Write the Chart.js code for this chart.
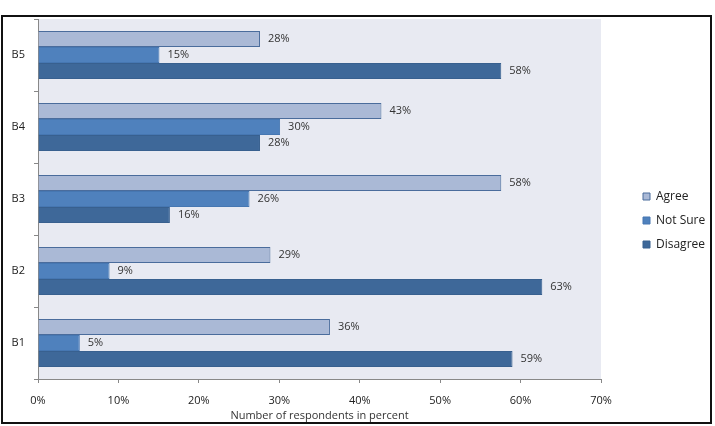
<!DOCTYPE html>
<html lang="en">
<head>
    <meta charset="UTF-8">
    <title>Respondents</title>
    <script src="https://cdn.jsdelivr.net/npm/chart.js"></script>
    <style>
        body {
            margin: 0;
            background-color: white;
        }
        .chart-box {
            position: absolute;
            left: 1px;
            top: 15px;
            width: 711px;
            height: 409px;
            box-sizing: border-box;
            border: 2px solid #111;
            background-color: white;
        }
        canvas {
            display: block;
        }
    </style>
</head>
<body>
    <div class="chart-box">
        <canvas id="respChart" width="707" height="405"></canvas>
    </div>
    <script>
        // bottom to top, as in the picture
        const categories = ['B1', 'B2', 'B3', 'B4', 'B5'];
        const agree    = [36.3, 28.9, 57.6, 42.7, 27.6];
        const notSure  = [5.2, 8.9, 26.3, 30.1, 15.1];
        const disagree = [59.0, 62.7, 16.4, 27.6, 57.6];
        const seriesNames = ['Agree', 'Not Sure', 'Disagree'];
        const xTicks = [0, 10, 20, 30, 40, 50, 60, 70];

        const font = "'Open Sans', sans-serif";

        // chart.js puts the first label on top, so flip the lists
        const flip = arr => arr.slice().reverse();

        const plotBackground = {
            id: 'plotBackground',
            beforeDraw(chart) {
                const {ctx, chartArea: a} = chart;
                ctx.save();
                ctx.fillStyle = '#E8EAF2';
                ctx.fillRect(a.left, a.top, a.right - a.left, a.bottom - a.top);
                ctx.restore();
            }
        };

        const barLabels = {
            id: 'barLabels',
            afterDatasetsDraw(chart) {
                const ctx = chart.ctx;
                ctx.save();
                ctx.font = '11px ' + font;
                ctx.fillStyle = '#333';
                ctx.textBaseline = 'middle';
                ctx.textAlign = 'left';
                chart.data.datasets.forEach((ds, i) => {
                    chart.getDatasetMeta(i).data.forEach((bar, j) => {
                        ctx.fillText(Math.round(ds.data[j]) + '%', bar.x + 8, bar.y);
                    });
                });
                ctx.restore();
            }
        };

        // keep the legend column a fixed width and push the items right
        const legendPlace = {
            id: 'legendPlace',
            afterInit(chart) {
                const lg = chart.legend;
                const fit = lg.fit.bind(lg);
                lg.fit = function () {
                    fit();
                    this.width = 109;
                };
            },
            afterLayout(chart) {
                chart.legend.left += 30;
                chart.legend.right += 30;
            }
        };

        new Chart(document.getElementById('respChart'), {
            type: 'bar',
            data: {
                labels: flip(categories),
                datasets: [{
                    label: seriesNames[0],
                    data: flip(agree),
                    backgroundColor: '#AAB9D6',
                    borderColor: '#4A6C9C',
                    borderWidth: 1
                }, {
                    label: seriesNames[1],
                    data: flip(notSure),
                    backgroundColor: '#4F81BD',
                    borderColor: '#4677B2',
                    borderWidth: 1
                }, {
                    label: seriesNames[2],
                    data: flip(disagree),
                    backgroundColor: '#3E6899',
                    borderColor: '#38608F',
                    borderWidth: 1
                }]
            },
            options: {
                indexAxis: 'y',
                responsive: false,
                animation: false,
                categoryPercentage: 0.667,
                barPercentage: 1.0,
                layout: {
                    padding: {top: 2, right: 0, bottom: 0, left: 0}
                },
                plugins: {
                    tooltip: {enabled: false},
                    legend: {
                        position: 'right',
                        labels: {
                            boxWidth: 7,
                            boxHeight: 7,
                            padding: 12,
                            color: '#222',
                            font: {family: font, size: 12}
                        }
                    }
                },
                scales: {
                    x: {
                        min: 0,
                        max: 70,
                        afterFit: s => {
                            s.height = 43;
                            s.paddingLeft = 0;
                            s.paddingRight = 0;
                        },
                        afterBuildTicks: s => { s.ticks = xTicks.map(v => ({value: v})); },
                        ticks: {
                            callback: v => v + '%',
                            color: '#222',
                            padding: 11,
                            font: {family: font, size: 11}
                        },
                        grid: {
                            drawOnChartArea: false,
                            tickLength: 4,
                            color: '#888'
                        },
                        border: {color: '#888'},
                        title: {
                            display: true,
                            text: 'Number of respondents in percent',
                            color: '#333',
                            padding: {top: 0, bottom: 0},
                            font: {family: font, size: 11}
                        }
                    },
                    y: {
                        afterFit: s => {
                            s.width = 35;
                            s.paddingTop = 0;
                            s.paddingBottom = 0;
                        },
                        ticks: {
                            color: '#222',
                            padding: 9,
                            font: {family: font, size: 11}
                        },
                        grid: {
                            drawOnChartArea: false,
                            offset: true,
                            tickLength: 4,
                            color: '#888'
                        },
                        border: {color: '#888'}
                    }
                }
            },
            plugins: [plotBackground, barLabels, legendPlace]
        });
    </script>
</body>
</html>
